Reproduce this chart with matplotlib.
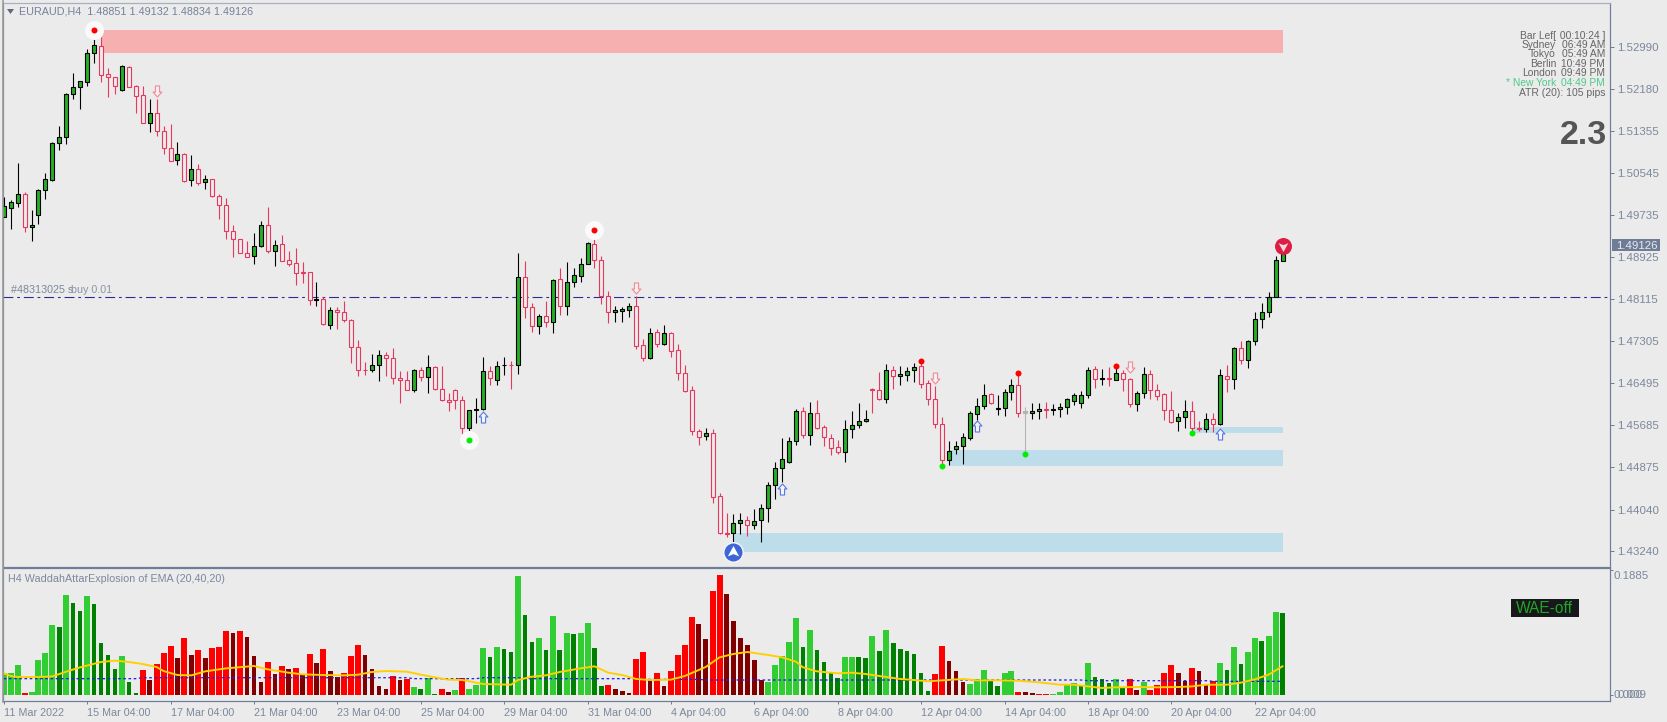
import matplotlib
matplotlib.use("Agg")
import matplotlib.pyplot as plt
from matplotlib.path import Path
from matplotlib.patches import Polygon, Rectangle

W, H = 1667, 722
DPI = 100
PX = 72 / DPI
PIP = 1e-4

OPEN = [14970,14988,14997,15014,14950,14974,15021,15041,15112,15124,
15208,15221,15231,15286,15301,15246,15240,15216,15260,15222,
15205,15152,15170,15135,15104,15080,15092,15041,15062,15037,
15044,15011,14992,14943,14928,14900,14894,14914,14954,14904,
14917,14886,14880,14863,14863,14809,14811,14762,14791,14787,
14770,14719,14675,14674,14684,14704,14697,14659,14654,14636,
14674,14661,14679,14637,14616,14636,14617,14563,14597,14598,
14672,14655,14683,14684,14683,14853,14796,14760,14778,14766,
14849,14798,14845,14856,14878,14918,14886,14818,14786,14789,
14791,14797,14722,14698,14747,14724,14746,14712,14669,14635,
14556,14546,14553,14430,14359,14359,14379,14385,14375,14384,
14408,14451,14484,14497,14536,14594,14549,14592,14564,14542,
14525,14516,14560,14567,14576,14638,14636,14618,14675,14663,
14664,14674,14681,14649,14619,14569,14501,14521,14528,14543,
14590,14604,14627,14599,14601,14631,14645,14594,14592,14594,
14598,14596,14598,14602,14614,14611,14625,14677,14656,14659,
14655,14669,14657,14609,14630,14667,14636,14627,14596,14575,
14584,14594,14563,14561,14579,14569,14663,14657,14716,14694,
14730,14773,14787,14816,14885]
HIGH = [15009,15003,15075,15019,14983,15023,15054,15115,15146,15210,
15247,15233,15294,15315,15318,15257,15240,15263,15261,15225,
15222,15198,15197,15146,15149,15114,15093,15090,15073,15051,
15044,15014,15006,14954,14928,14923,14938,14962,14989,14925,
14935,14904,14910,14883,14863,14844,14816,14795,14796,14807,
14772,14733,14689,14706,14712,14708,14716,14672,14673,14676,
14679,14703,14681,14681,14629,14637,14623,14597,14621,14699,
14681,14691,14699,14691,14900,14885,14803,14782,14807,14850,
14871,14882,14872,14890,14921,14929,14895,14827,14797,14796,
14804,14817,14734,14755,14753,14762,14748,14724,14683,14643,
14560,14562,14560,14436,14397,14396,14398,14392,14405,14415,
14458,14497,14542,14544,14598,14603,14612,14616,14567,14550,
14539,14578,14595,14610,14597,14640,14670,14686,14682,14682,
14680,14687,14687,14655,14643,14583,14537,14537,14552,14594,
14621,14647,14630,14626,14637,14656,14665,14603,14611,14610,
14613,14608,14610,14621,14629,14634,14680,14682,14677,14680,
14678,14675,14659,14633,14679,14674,14648,14629,14634,14591,
14616,14615,14576,14592,14592,14677,14683,14719,14731,14733,
14787,14804,14824,14894,14898]
LOW = [14970,14947,14990,14941,14924,14957,15005,15039,15099,15111,
15197,15179,15223,15267,15231,15201,15207,15214,15220,15171,
15151,15134,15127,15091,15077,15071,15038,15030,15032,15024,
15009,14965,14928,14893,14901,14893,14879,14912,14900,14876,
14884,14876,14839,14843,14800,14798,14762,14754,14754,14766,
14688,14663,14665,14671,14652,14663,14647,14611,14635,14632,
14652,14630,14636,14614,14594,14599,14550,14555,14572,14596,
14646,14646,14664,14637,14667,14775,14748,14743,14758,14746,
14780,14780,14835,14845,14878,14872,14802,14764,14767,14766,
14777,14715,14692,14695,14719,14722,14700,14655,14632,14549,
14529,14539,14418,14357,14352,14339,14357,14353,14366,14341,
14381,14424,14458,14494,14529,14543,14529,14561,14528,14509,
14511,14497,14542,14563,14574,14592,14617,14610,14637,14645,
14653,14650,14640,14607,14563,14491,14491,14512,14493,14538,
14578,14599,14609,14587,14585,14616,14584,14511,14579,14580,
14581,14587,14584,14590,14607,14601,14621,14640,14646,14644,
14654,14634,14603,14594,14621,14619,14616,14577,14572,14557,
14563,14557,14557,14554,14555,14567,14632,14638,14686,14678,
14723,14755,14776,14815,14885]
CLOSE = [14991,14998,15014,14951,14954,15021,15043,15112,15124,15208,
15220,15232,15286,15303,15244,15240,15222,15261,15221,15204,
15152,15170,15135,15104,15078,15092,15040,15062,15036,15044,
15010,14992,14942,14927,14901,14893,14914,14954,14904,14916,
14885,14879,14862,14862,14809,14811,14763,14791,14787,14770,
14719,14675,14674,14684,14704,14697,14658,14654,14636,14674,
14660,14679,14637,14616,14612,14617,14563,14597,14598,14672,
14658,14682,14684,14683,14853,14796,14760,14778,14766,14848,
14798,14845,14858,14878,14919,14886,14818,14786,14790,14792,
14797,14721,14698,14746,14724,14746,14711,14669,14634,14556,
14544,14553,14429,14359,14358,14379,14385,14375,14383,14408,
14451,14484,14502,14536,14594,14549,14592,14563,14544,14524,
14516,14560,14568,14575,14579,14636,14618,14675,14662,14666,
14672,14679,14648,14619,14569,14501,14518,14528,14544,14591,
14604,14626,14610,14601,14631,14645,14592,14592,14594,14598,
14596,14598,14603,14618,14626,14626,14675,14656,14659,14656,
14669,14656,14609,14630,14667,14636,14624,14596,14574,14584,
14594,14563,14561,14579,14570,14664,14657,14716,14694,14731,
14773,14787,14816,14886,14898]
GHOST_BARS = [147]

PRICE_TICKS = ["1.52990","1.52180","1.51355","1.50545","1.49735","1.48925","1.48115",
               "1.47305","1.46495","1.45685","1.44875","1.44040","1.43240"]
BUY_LEVEL = 14816

# zones: first bar, last bar, low, high
SUPPLY_ZONE = (14, 184, 15287, 15331)
DEMAND_ZONES = [(105, 184, 14323, 14360), (136, 184, 14489, 14519), (171, 184, 14552, 14564)]

HALO_RED = [(13, 15331), (85, 14945)]
HALO_GREEN = [(67, 14538)]
DOT_RED = [(132, 14692), (146, 14668), (160, 14682)]
DOT_GREEN = [(135, 14489), (147, 14511), (171, 14552)]
ARROW_UP = [(69, 14583), (112, 14445), (140, 14565), (175, 14551)]
ARROW_DOWN = [(22, 15214), (91, 14833), (134, 14659), (162, 14679)]
ICON_BLUE = (105, 14323)
ICON_RED = (184, 14914)

WAE_VALUE = [341,351,472,26,52,550,660,1106,1069,1567,
1441,1320,1551,1425,812,634,403,608,204,31,
393,241,487,660,770,582,891,624,713,582,
734,755,1011,975,1011,907,608,204,514,325,
461,403,430,325,645,498,728,377,288,341,
608,781,624,403,136,94,299,231,246,121,
94,267,10,94,52,79,262,94,157,739,
592,755,723,676,1871,1258,833,891,713,1242,
713,975,959,975,1132,739,136,152,94,63,
26,566,676,236,351,136,377,624,786,1226,
1121,880,1635,1886,1582,1158,891,786,550,236,
204,472,613,833,1205,755,1022,702,514,341,
267,597,597,597,582,927,686,1022,812,728,
686,645,341,68,325,770,540,377,204,173,
252,393,225,136,341,377,52,52,26,16,
16,10,52,152,189,162,498,283,257,189,
257,121,257,79,204,79,152,351,472,341,
225,419,377,168,225,498,393,755,487,676,
891,849,927,1300,1294]
WAE_KIND = ("LLLRLLLLGLGGLGGGGLGG"
            "RDRRRDRDRDRRRDRDDDRDRDRDRDRDDRRRDDDDRDRLGLGRD"
            "LRLLLGLGGLGGLGLGLGLLGGRDDDRRDRDRRRRDDRRDDDDDDLLLLLGLGGGGLLGGLGL"
            "GGGGGGRRDDDLLLGGLLRDDRRLLLLGLGGGLGRDLRRRRDDRDDRLGLGLLGLLG")
KIND_COLOR = {"L": "#32CD32", "G": "#008000", "R": "#FF0000", "D": "#800000"}

SIGNAL_BARS = [0,1,2,5,7,9,11,14,16,18,20,22,23,25,27,29,32,36,38,41,43,46,49,51,53,55,58,60,62,64,
66,69,73,74,76,78,80,83,85,87,89,91,93,96,98,101,103,105,107,110,112,114,115,117,120,122,124,127,
129,131,133,135,138,140,143,146,149,152,154,156,158,160,163,166,169,171,173,176,178,180,182,184]
SIGNAL_VALUE = [341,299,283,283,293,367,435,519,540,519,487,440,377,314,309,372,419,456,403,351,325,314,309,320,362,377,367,320,278,241,
236,173,162,236,288,309,362,419,451,351,314,252,236,241,299,440,592,645,676,629,592,524,435,372,341,351,330,283,
252,236,215,231,252,231,231,225,199,162,162,136,110,121,126,121,126,136,162,162,194,246,320,451]

DEAD_BARS = [0,19,20,58,59,68,69,74,75,91,92,100,101,155,156,173,174,184]
DEAD_VALUE = [257,257,272,272,257,257,272,272,257,257,246,246,236,236,225,225,215,215]

DATE_TICKS = ["11 Mar 2022","15 Mar 04:00","17 Mar 04:00","21 Mar 04:00","23 Mar 04:00","25 Mar 04:00",
              "29 Mar 04:00","31 Mar 04:00","4 Apr 04:00","6 Apr 04:00","8 Apr 04:00","12 Apr 04:00",
              "14 Apr 04:00","18 Apr 04:00","20 Apr 04:00","22 Apr 04:00"]

plt.rcParams["font.family"] = ["Liberation Sans", "DejaVu Sans"]
BG = "#EBEBEB"
AXIS = "#6F7D98"
TXT = "#7C889C"
UP = "#26AE26"
DOWN = "#E8365E"
F = 10.8 * PX


def rect(x0, y0, x1, y1):
    return [x0 / W, 1 - y1 / H, (x1 - x0) / W, (y1 - y0) / H]


def ftext(x, y, s, **kw):
    kw.setdefault("va", "center")
    kw.setdefault("fontsize", F)
    kw.setdefault("color", TXT)
    return fig.text(x / W, 1 - y / H, s, **kw)


fig = plt.figure(figsize=(W / DPI, H / DPI), dpi=DPI, facecolor=BG)
LEFT, RIGHT = 3.0, 1610.0
ax = fig.add_axes(rect(LEFT, 3, RIGHT, 566.7), facecolor=BG)
ax2 = fig.add_axes(rect(LEFT, 568, RIGHT, 701), facecolor=BG)
BAR = 6.95
XLIM = ((LEFT - 3.7) / BAR, (RIGHT - 3.7) / BAR)

ax.set_xlim(*XLIM)
ax.set_ylim(14294.1 * PIP, 15383.2 * PIP)
ax2.set_xlim(*XLIM)
ax2.set_ylim(-94 * PIP, 1996 * PIP)

for a in (ax, ax2):
    for s in a.spines.values():
        s.set_color(AXIS)
        s.set_linewidth(1.2 * PX)
ax.spines["top"].set_color("#A8B0BF")

# zones
ax.add_patch(Rectangle((SUPPLY_ZONE[0], SUPPLY_ZONE[2] * PIP), SUPPLY_ZONE[1] - SUPPLY_ZONE[0],
                       (SUPPLY_ZONE[3] - SUPPLY_ZONE[2]) * PIP, color="#F6B0B0", lw=0, zorder=1))
for b0, b1, lo, hi in DEMAND_ZONES:
    ax.add_patch(Rectangle((b0, lo * PIP), b1 - b0, (hi - lo) * PIP, color="#BCDDE9", lw=0, zorder=1))

ax.axhline(BUY_LEVEL * PIP, color="#2B2B8F", lw=1.1 * PX, linestyle=(0, (9, 3.5, 2.5, 3.5)), zorder=2)

# candles
for i, (o, h, l, c) in enumerate(zip(OPEN, HIGH, LOW, CLOSE)):
    ghost = i in GHOST_BARS
    up = c >= o
    edge = "#B4B4B4" if ghost else ("black" if up else DOWN)
    face = "#B4B4B4" if ghost else (UP if up else BG)
    ax.vlines(i, l * PIP, h * PIP, color=edge, lw=1.1 * PX, zorder=3)
    ax.bar(i, max(abs(c - o), 1) * PIP, bottom=min(o, c) * PIP, width=4 / BAR,
           facecolor=face, edgecolor=edge, linewidth=1.1 * PX, zorder=4)

# signal markers
def d2s(d):
    return (d * PX) ** 2


for pts, col in ((HALO_RED, "#FF0000"), (HALO_GREEN, "#00EE00")):
    ax.scatter([p[0] for p in pts], [p[1] * PIP for p in pts], s=d2s(19), color="#FAFAFA", lw=0, zorder=6)
    ax.scatter([p[0] for p in pts], [p[1] * PIP for p in pts], s=d2s(6), color=col, lw=0, zorder=7)
for pts, col in ((DOT_RED, "#FF0000"), (DOT_GREEN, "#00EE00")):
    ax.scatter([p[0] for p in pts], [p[1] * PIP for p in pts], s=d2s(6), color=col, lw=0, zorder=7)

up_arrow = Path([(0, 1), (0.8, 0.1), (0.38, 0.1), (0.38, -1), (-0.38, -1), (-0.38, 0.1), (-0.8, 0.1), (0, 1)], closed=True)
down_arrow = Path([(0, -1), (0.8, -0.1), (0.38, -0.1), (0.38, 1), (-0.38, 1), (-0.38, -0.1), (-0.8, -0.1), (0, -1)], closed=True)
ax.plot([p[0] for p in ARROW_UP], [p[1] * PIP for p in ARROW_UP], ls="none", marker=up_arrow, ms=11 * PX,
        mfc="#F4F4FA", mec="#5577E8", mew=1.1 * PX, zorder=6)
ax.plot([p[0] for p in ARROW_DOWN], [p[1] * PIP for p in ARROW_DOWN], ls="none", marker=down_arrow, ms=11 * PX,
        mfc="#F8EEEE", mec="#F08A98", mew=1.1 * PX, zorder=6)

up_nav = Path([(0, 1), (0.87, -0.6), (0, -0.25), (-0.87, -0.6), (0, 1)], closed=True)
down_nav = Path([(0, -1), (0.87, 0.6), (0, 0.25), (-0.87, 0.6), (0, -1)], closed=True)
ax.scatter(ICON_BLUE[0], ICON_BLUE[1] * PIP, s=d2s(21), color="#F4F4F8", lw=0, zorder=6, clip_on=False)
ax.scatter(ICON_BLUE[0], ICON_BLUE[1] * PIP, s=d2s(18), color="#3F66D8", lw=0, zorder=7, clip_on=False)
ax.plot(ICON_BLUE[0], ICON_BLUE[1] * PIP, marker=up_nav, ms=13 * PX, mfc="white", mew=0, zorder=8)
ax.scatter(ICON_RED[0], ICON_RED[1] * PIP, s=d2s(17), color="#DC1E46", lw=0, zorder=7)
ax.plot(ICON_RED[0], ICON_RED[1] * PIP, marker=down_nav, ms=11 * PX, mfc="#F6D8DE", mew=0, zorder=8)

# price axis
ax.yaxis.tick_right()
ax.set_xticks([])
ax.set_yticks([float(t) for t in PRICE_TICKS])
ax.set_yticklabels(PRICE_TICKS)
ax.tick_params(axis="y", length=3 * PX * 1.3, width=1 * PX, color=AXIS, labelcolor=TXT, labelsize=11.5 * PX, pad=2.0)

# oscillator
for i, (v, k) in enumerate(zip(WAE_VALUE, WAE_KIND)):
    ax2.bar(i, v * PIP, width=(6 if k in "LR" else 4.5) / BAR, color=KIND_COLOR[k], lw=0, zorder=2)
ax2.plot(DEAD_BARS, [v * PIP for v in DEAD_VALUE], color="#2020E0", lw=1.3 * PX, ls=(0, (2, 2)), zorder=3)
ax2.plot(SIGNAL_BARS, [v * PIP for v in SIGNAL_VALUE], color="#FFD000", lw=1.9 * PX, zorder=4)

ax2.set_xticks(range(0, 12 * len(DATE_TICKS), 12))
ax2.set_xticklabels(DATE_TICKS, ha="left")
ax2.tick_params(axis="x", length=3 * PX, width=1 * PX, color=AXIS, labelcolor=TXT, labelsize=F, pad=3.2)
ax2.yaxis.tick_right()
ax2.set_yticks([0, 1965 * PIP])
ax2.set_yticklabels([])
ax2.tick_params(axis="y", length=3 * PX, width=1 * PX, color=AXIS)

# texts
ftext(19, 11.5, "EURAUD,H4  1.48851 1.49132 1.48834 1.49126", color="#75819A", fontsize=10.7 * PX)
fig.add_artist(Polygon([(7 / W, 1 - 9 / H), (14 / W, 1 - 9 / H), (10.5 / W, 1 - 14 / H)],
                       closed=True, color="#5C6A80", transform=fig.transFigure, lw=0))
ftext(11, 290, "#48313025 s", color="#7C8899", fontsize=10.7 * PX)
ftext(70.5, 290, "buy 0.01", color="#8A95A6", fontsize=10.7 * PX)

rows = [("Bar Lef[", " 00:10:24 ]", "#666666"), ("Sydney", "06:49 AM", "#666666"), ("Tokyo", "05:49 AM", "#666666"),
        ("Berlin", "10:49 PM", "#666666"), ("London", "09:49 PM", "#666666"),
        ("* New York", "04:49 PM", "#4FC98A")]
for r, (a, b, c) in zip((35.7, 45, 54.3, 64, 73.3, 83), rows):
    ftext(1556, r, a, ha="right", color=c, fontsize=10.2 * PX)
    ftext(1605, r, b, ha="right", color=c, fontsize=10.2 * PX)
ftext(1605, 92.7, "ATR (20): 105 pips", ha="right", color="#666666", fontsize=10.4 * PX)
ftext(1607, 135, "2.3", ha="right", color="#555555", fontsize=34 * PX, fontweight="bold")

fig.patches.append(Rectangle((1612 / W, 1 - 251 / H), 48 / W, 12 / H, color="#6F7C96", lw=0,
                             transform=fig.transFigure))
ftext(1616, 245.7, "1.49126", color="#E6EAF0", fontsize=11.5 * PX)

ftext(1613.5, 576, "0.1885", fontsize=11.5 * PX)
ftext(1613.5, 695, "0.000", fontsize=11.5 * PX)
ftext(1617, 695, "0.009", fontsize=11.5 * PX)

fig.patches.append(Rectangle((1510.7 / W, 1 - 617.3 / H), 68 / W, 18 / H, color="#16181B", lw=0,
                             transform=fig.transFigure))
ftext(1544.7, 608.5, "WAE-off", ha="center", color="#22A622", fontsize=15.5 * PX)
ftext(7.5, 579.5, "H4 WaddahAttarExplosion of EMA (20,40,20)", color="#7C889C", fontsize=10.8 * PX)

fig.add_artist(plt.Line2D([2.8 / W, 2.8 / W], [1 - 0 / H, 1 - 702 / H], color="#9A9A9A", lw=1.6 * PX))

fig.savefig("out.png", dpi=DPI, facecolor=BG)
